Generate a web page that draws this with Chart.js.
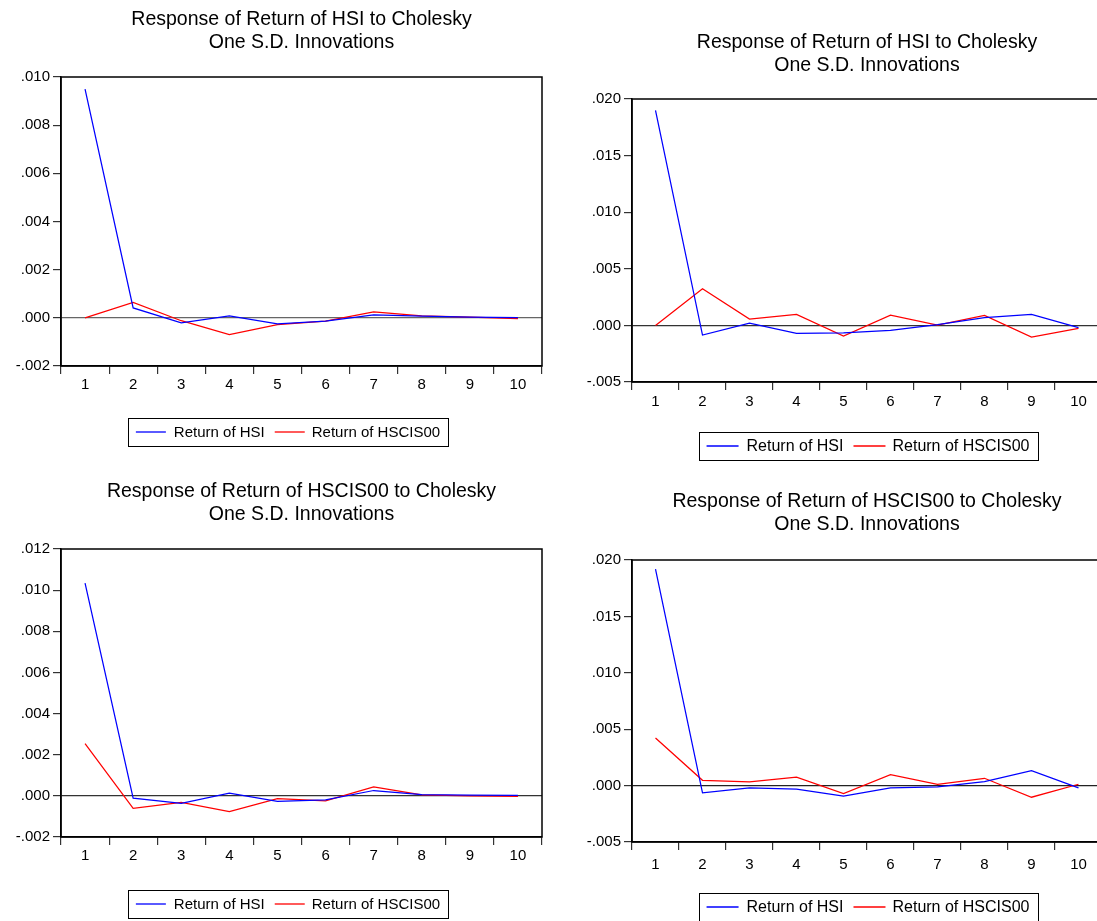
<!DOCTYPE html>
<html><head><meta charset="utf-8">
<script src="https://cdn.jsdelivr.net/npm/chart.js@4.4.0/dist/chart.umd.min.js"></script>
<style>
html,body{margin:0;padding:0;background:#fff;overflow:hidden;width:1097px;height:921px;position:relative;}
canvas{position:absolute;}
</style></head><body>
<canvas id="c1"></canvas>
<canvas id="c2"></canvas>
<canvas id="c3"></canvas>
<canvas id="c4"></canvas>
<script>
// ---------- data ----------
const periods = ['1','2','3','4','5','6','7','8','9','10'];
const seriesNames = ['Return of HSI', 'Return of HSCIS00'];
const titleHSI = ['Response of Return of HSI to Cholesky', 'One S.D. Innovations'];
const titleHSCIS = ['Response of Return of HSCIS00 to Cholesky', 'One S.D. Innovations'];

// top-left
const p1HSI   = [0.0095, 0.00041, -0.00021, 0.00008, -0.00025, -0.00014, 0.00012, 0.00007, 0.00003, 0.00001];
const p1HSCIS = [0.0, 0.00064, -0.00012, -0.0007, -0.00028, -0.00014, 0.00025, 0.00008, 0.00003, -0.00003];
const p1Ticks = [-0.002, 0.000, 0.002, 0.004, 0.006, 0.008, 0.010];
// top-right
const p2HSI   = [0.0190, -0.00085, 0.0002, -0.0007, -0.00065, -0.00044, 0.00006, 0.00068, 0.00097, -0.0002];
const p2HSCIS = [0.0, 0.00324, 0.00056, 0.00097, -0.00094, 0.00091, 0.00003, 0.00088, -0.00103, -0.00027];
const p2Ticks = [-0.005, 0.000, 0.005, 0.010, 0.015, 0.020];
// bottom-left
const p3HSI   = [0.01034, -0.00011, -0.00036, 0.00013, -0.00027, -0.00019, 0.00026, 0.00006, 0.00003, 0.00002];
const p3HSCIS = [0.00254, -0.00061, -0.00032, -0.00076, -0.00013, -0.00024, 0.00044, 0.00005, 0.0, -0.00002];
const p3Ticks = [-0.002, 0.000, 0.002, 0.004, 0.006, 0.008, 0.010, 0.012];
// bottom-right
const p4HSI   = [0.0192, -0.00065, -0.0002, -0.00032, -0.00094, -0.0002, -0.00012, 0.00035, 0.00133, -0.0002];
const p4HSCIS = [0.00422, 0.00047, 0.00032, 0.00074, -0.00071, 0.00097, 0.00012, 0.00065, -0.00103, 0.00012];
const p4Ticks = [-0.005, 0.000, 0.005, 0.010, 0.015, 0.020];

// ---------- layout (page coordinates) ----------
const FONT = '"Liberation Sans", Arial, sans-serif';
const layouts = {
  c1: {x0:0,   y0:0,   w:560, h:465, left:61,  right:542,  top:77,  bottom:366, titleY:[20,43],   legendCX:288, legendY:432, labPad:2, legFont:15, legLine:30, zero:'#666'},
  c2: {x0:560, y0:0,   w:560, h:465, left:632, right:1102, top:99,  bottom:382, titleY:[43,66],   legendCX:868, legendY:446, labPad:3, legFont:16, legLine:32, zero:'#333'},
  c3: {x0:0,   y0:465, w:560, h:456, left:61,  right:542,  top:549, bottom:837, titleY:[492,515], legendCX:288, legendY:904, labPad:2, legFont:15, legLine:30, zero:'#333'},
  c4: {x0:560, y0:465, w:560, h:456, left:632, right:1102, top:560, bottom:842, titleY:[502,525], legendCX:868, legendY:907, labPad:6, legFont:16, legLine:32, zero:'#222'}
};

const fmt = v => {
  const s = Math.abs(v).toFixed(3).replace(/^0/, '');
  return (v < -1e-12 ? '-' : '') + s;
};

const panelText = {
  id: 'panelText',
  afterDraw(chart, args, o) {
    const ctx = chart.ctx, a = chart.chartArea;
    ctx.save();
    // frame
    ctx.strokeStyle = '#000';
    ctx.lineWidth = 1.5;
    ctx.strokeRect(a.left, a.top, a.right - a.left, a.bottom - a.top);
    // title
    ctx.fillStyle = '#000';
    ctx.font = '19.5px ' + FONT;
    ctx.textAlign = 'center';
    ctx.textBaseline = 'middle';
    const cx = (a.left + a.right) / 2;
    o.title.forEach((t, i) => ctx.fillText(t, cx, o.titleY[i]));
    // legend
    ctx.font = o.legFont + 'px ' + FONT;
    ctx.textAlign = 'left';
    const ds = chart.data.datasets;
    const w = ds.map(d => ctx.measureText(d.label).width);
    const ll = o.legLine;
    const total = 8 + ll + 8 + w[0] + 10 + ll + 7 + w[1] + 8;
    const bx = o.legendCX - total / 2, by = o.legendY - 14;
    ctx.lineWidth = 1;
    ctx.strokeStyle = '#000';
    ctx.strokeRect(Math.round(bx) + 0.5, Math.round(by) + 0.5, Math.round(total), 28);
    let x = bx + 8;
    ds.forEach((d, i) => {
      ctx.strokeStyle = d.borderColor;
      ctx.lineWidth = 1.3;
      ctx.beginPath();
      ctx.moveTo(x, o.legendY);
      ctx.lineTo(x + ll, o.legendY);
      ctx.stroke();
      x += ll + (i === 0 ? 8 : 7);
      ctx.fillStyle = '#000';
      ctx.fillText(d.label, x, o.legendY + 1);
      x += w[i] + 10;
    });
    ctx.restore();
  }
};

function makePanel(id, title, hsi, hscis, ticks) {
  const L = layouts[id];
  const cv = document.getElementById(id);
  cv.width = L.w; cv.height = L.h;
  cv.style.left = L.x0 + 'px'; cv.style.top = L.y0 + 'px';
  cv.style.width = L.w + 'px'; cv.style.height = L.h + 'px';
  const xh = 34;
  new Chart(cv, {
    type: 'line',
    data: {
      labels: periods,
      datasets: [
        {label: seriesNames[0], data: hsi,   borderColor: '#0000ff', borderWidth: 1.25, pointRadius: 0, tension: 0, fill: false},
        {label: seriesNames[1], data: hscis, borderColor: '#ff0000', borderWidth: 1.25, pointRadius: 0, tension: 0, fill: false}
      ]
    },
    options: {
      responsive: false,
      animation: false,
      devicePixelRatio: 1,
      layout: {padding: {left: 0, top: L.top - L.y0, right: (L.x0 + L.w) - L.right, bottom: (L.y0 + L.h) - L.bottom - xh}},
      plugins: {
        legend: {display: false},
        title: {display: false},
        tooltip: {enabled: false},
        panelText: {title: title, titleY: L.titleY.map(v => v - L.y0), legendCX: L.legendCX - L.x0, legendY: L.legendY - L.y0, legFont: L.legFont, legLine: L.legLine}
      },
      scales: {
        x: {
          type: 'category',
          offset: true,
          grid: {offset: true, drawOnChartArea: false, drawTicks: true, tickLength: 8, tickColor: '#333', lineWidth: 1.2},
          border: {display: true, color: '#000', width: 1.5},
          ticks: {color: '#000', font: {family: FONT, size: 15}, padding: L.labPad, maxRotation: 0, autoSkip: false},
          afterFit: s => { s.height = xh; }
        },
        y: {
          min: ticks[0],
          max: ticks[ticks.length - 1],
          afterBuildTicks: s => { s.ticks = ticks.map(v => ({value: v})); },
          grid: {
            drawOnChartArea: true,
            drawTicks: true,
            tickLength: 8,
            tickColor: '#333',
            lineWidth: 1.2,
            color: c => (c.tick && Math.abs(c.tick.value) < 1e-12) ? L.zero : 'rgba(0,0,0,0)'
          },
          border: {display: true, color: '#000', width: 1.5},
          ticks: {color: '#000', font: {family: FONT, size: 15}, padding: 3, callback: v => fmt(v)},
          afterFit: s => { s.width = L.left - L.x0; }
        }
      }
    },
    plugins: [panelText]
  });
}

makePanel('c1', titleHSI, p1HSI, p1HSCIS, p1Ticks);
makePanel('c2', titleHSI, p2HSI, p2HSCIS, p2Ticks);
makePanel('c3', titleHSCIS, p3HSI, p3HSCIS, p3Ticks);
makePanel('c4', titleHSCIS, p4HSI, p4HSCIS, p4Ticks);
</script>
</body></html>
